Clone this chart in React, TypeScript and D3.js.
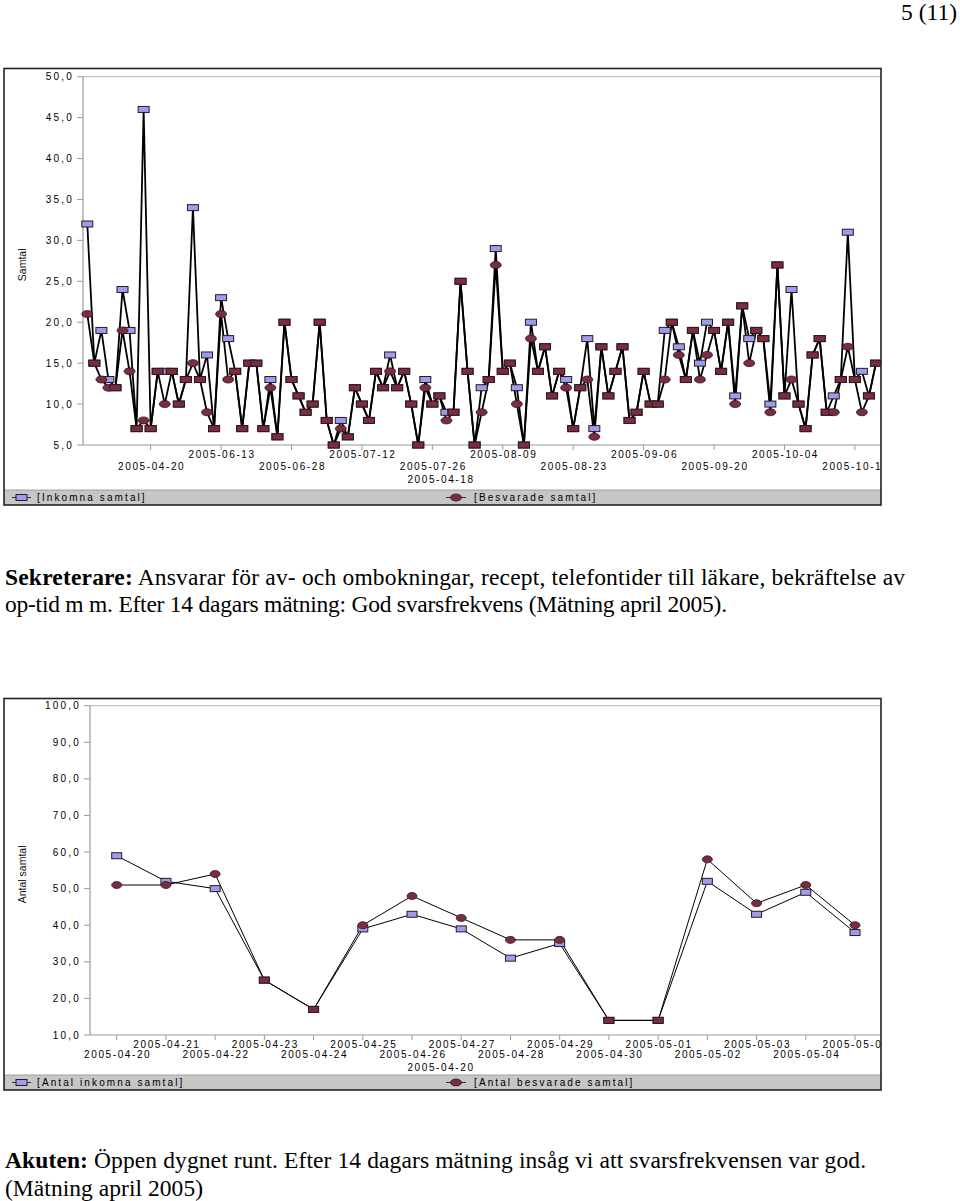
import React from "react";
import * as d3 from "d3";

// ---------- Chart 1 data (Sekreterare) ----------
const inkomna = [
  32, 15, 19, 13, 12, 24, 19, 7, 46, 7,
  14, 14, 14, 10, 13, 34, 13, 16, 7, 23,
  18, 14, 7, 15, 15, 7, 13, 6, 20, 13,
  11, 9, 10, 20, 8, 5, 8, 6, 12, 10,
  8, 14, 12, 16, 12, 14, 10, 5, 13, 10,
  11, 9, 9, 25, 14, 5, 12, 13, 29, 14,
  15, 12, 5, 20, 14, 17, 11, 14, 13, 7,
  12, 18, 7, 17, 11, 14, 17, 8, 9, 14,
  10, 10, 19, 20, 17, 13, 19, 15, 20, 19,
  14, 20, 11, 22, 18, 19, 18, 10, 27, 11,
  24, 10, 7, 16, 18, 9, 11, 13, 31, 13,
  14, 11, 15,
];
const besvarade = [
  21, 15, 13, 12, 12, 19, 14, 7, 8, 7,
  14, 10, 14, 10, 13, 15, 13, 9, 7, 21,
  13, 14, 7, 15, 15, 7, 12, 6, 20, 13,
  11, 9, 10, 20, 8, 5, 7, 6, 12, 10,
  8, 14, 12, 14, 12, 14, 10, 5, 12, 10,
  11, 8, 9, 25, 14, 5, 9, 13, 27, 14,
  15, 10, 5, 18, 14, 17, 11, 14, 12, 7,
  12, 13, 6, 17, 11, 14, 17, 8, 9, 14,
  10, 10, 13, 20, 16, 13, 19, 13, 16, 19,
  14, 20, 10, 22, 15, 19, 18, 9, 27, 11,
  13, 10, 7, 16, 18, 9, 9, 13, 17, 13,
  9, 11, 15,
];
const tickLabels1 = [
  "2005-04-20", "2005-06-13", "2005-06-28", "2005-07-12", "2005-07-26",
  "2005-08-09", "2005-08-23", "2005-09-06", "2005-09-20", "2005-10-04", "2005-10-18",
];
const yTicks1 = [5, 10, 15, 20, 25, 30, 35, 40, 45, 50];

// ---------- Chart 2 data (Akuten) ----------
const akutDates = [
  "2005-04-20", "2005-04-21", "2005-04-22", "2005-04-23", "2005-04-24", "2005-04-25",
  "2005-04-26", "2005-04-27", "2005-04-28", "2005-04-29", "2005-04-30", "2005-05-01",
  "2005-05-02", "2005-05-03", "2005-05-04", "2005-05-05",
];
const akutInkomna = [59, 52, 50, 25, 17, 39, 43, 39, 31, 35, 14, 14, 52, 43, 49, 38];
const akutBesvarade = [51, 51, 54, 25, 17, 40, 48, 42, 36, 36, 14, 14, 58, 46, 51, 40];
const yTicks2 = [10, 20, 30, 40, 50, 60, 70, 80, 90, 100];

const BLUE = "#9c9cf2";
const RED = "#7b2c40";
const EDGE = "#2a1a1a";
const AX = "#9a9a9a";
const SANS = "'Liberation Sans', Arial, sans-serif";
const SERIF = "'Liberation Serif', 'Times New Roman', serif";

const fmt = (v: number) => d3.format(".1f")(v).replace(".", ",");

type ChartProps = {
  id: string;
  frame: [number, number, number, number];
  plot: [number, number, number, number];
  xRange: [number, number];
  n: number;
  yDomain: [number, number];
  yTicks: number[];
  s1: number[];
  s2: number[];
  tickIdx: number[];
  tickLabels: string[];
  rows: [number, number, number];
  row3: string;
  title: string;
  legend1: string;
  legend2: string;
  lineW: number;
  mw: number;
  mh: number;
};

function Chart(p: ChartProps) {
  const [fx0, fy0, fx1, fy1] = p.frame;
  const [px0, py0, , py1] = p.plot;
  const x = d3.scaleLinear().domain([0, p.n - 1]).range(p.xRange);
  const y = d3.scaleLinear().domain(p.yDomain).range([py1, py0]);
  const line = d3
    .line<number>()
    .x((_, i) => x(i))
    .y((d) => y(d));
  const legendY0 = fy1 - 15;
  const legendMid = fy1 - 7.5;
  const midX = 441;
  const txt = {
    fontFamily: SANS,
    fontSize: 10,
    letterSpacing: 1.6,
    fill: "#000",
  } as const;
  return (
    <g>
      <defs>
        <clipPath id={p.id}>
          <rect x={fx0} y={fy0} width={fx1 - fx0} height={fy1 - fy0} />
        </clipPath>
      </defs>
      <rect x={fx0} y={fy0} width={fx1 - fx0} height={fy1 - fy0} fill="#fff" />
      <g clipPath={`url(#${p.id})`}>
        {/* plot border */}
        <line x1={px0} x2={fx1} y1={py0} y2={py0} stroke="#c4c4c4" strokeWidth={1.2} />
        <line x1={px0} x2={px0} y1={py0} y2={py1} stroke={AX} strokeWidth={1.2} />
        <line x1={px0} x2={fx1} y1={py1} y2={py1} stroke={AX} strokeWidth={1.2} />
        {/* y ticks */}
        {p.yTicks.map((t) => (
          <g key={t}>
            <line x1={px0 - 6} x2={px0} y1={y(t)} y2={y(t)} stroke={AX} />
            <text x={px0 - 9} y={y(t) + 3.5} textAnchor="end" {...txt} letterSpacing={2.2}>
              {fmt(t)}
            </text>
          </g>
        ))}
        <text
          transform={`translate(${fx0 + 22},${(py0 + py1) / 2 + 4}) rotate(-90)`}
          textAnchor="middle"
          fontFamily={SANS}
          fontSize={10.5}
          fill="#111"
        >
          {p.title}
        </text>
        {/* x ticks */}
        {p.tickIdx.map((ti, k) => (
          <g key={ti}>
            <line x1={x(ti)} x2={x(ti)} y1={py1} y2={py1 + 5} stroke={AX} />
            <text
              x={x(ti) + 1}
              y={py1 + (k % 2 === 1 ? p.rows[0] : p.rows[1])}
              textAnchor="middle"
              {...txt}
            >
              {p.tickLabels[k]}
            </text>
          </g>
        ))}
        <text x={midX} y={py1 + p.rows[2]} textAnchor="middle" {...txt}>
          {p.row3}
        </text>
        {/* lines */}
        <path d={line(p.s1) || ""} fill="none" stroke="#000" strokeWidth={p.lineW} />
        <path d={line(p.s2) || ""} fill="none" stroke="#000" strokeWidth={p.lineW} />
        {/* markers */}
        {p.s1.map((v, i) => (
          <rect
            key={"a" + i}
            x={x(i) - p.mw / 2}
            y={y(v) - p.mh / 2}
            width={p.mw}
            height={p.mh}
            fill={BLUE}
            stroke={EDGE}
            strokeWidth={1}
          />
        ))}
        {p.s2.map((v, i) =>
          v === p.s1[i] ? (
            <rect
              key={"b" + i}
              x={x(i) - p.mw / 2}
              y={y(v) - p.mh / 2}
              width={p.mw}
              height={p.mh}
              fill={RED}
              stroke={EDGE}
              strokeWidth={1}
            />
          ) : (
            <ellipse
              key={"b" + i}
              cx={x(i)}
              cy={y(v)}
              rx={p.mw / 2}
              ry={p.mh / 2 + 0.5}
              fill={RED}
              stroke={EDGE}
              strokeWidth={0.8}
            />
          )
        )}
        {/* legend */}
        <rect x={fx0} y={legendY0} width={fx1 - fx0} height={15} fill="#c6c6c6" />
        <line x1={fx0} x2={fx1} y1={legendY0} y2={legendY0} stroke="#a0a0a0" />
        <line x1={fx0 + 8} x2={fx0 + 27} y1={legendMid} y2={legendMid} stroke="#333" />
        <rect x={fx0 + 12} y={legendMid - 3} width={11} height={6} fill={BLUE} stroke={EDGE} />
        <text x={fx0 + 33} y={legendMid + 3.5} fontFamily={SANS} fontSize={10} letterSpacing={2.1} fill="#000">
          {p.legend1}
        </text>
        <line x1={446} x2={466} y1={legendMid} y2={legendMid} stroke="#333" />
        <ellipse cx={456} cy={legendMid} rx={5.5} ry={3.5} fill={RED} stroke={EDGE} strokeWidth={0.8} />
        <text x={474} y={legendMid + 3.5} fontFamily={SANS} fontSize={10} letterSpacing={2.1} fill="#000">
          {p.legend2}
        </text>
      </g>
      <rect
        x={fx0}
        y={fy0}
        width={fx1 - fx0}
        height={fy1 - fy0}
        fill="none"
        stroke="#222"
        strokeWidth={1.6}
      />
    </g>
  );
}

export default function App() {
  const idx1 = tickLabels1.map((_, i) => 9 + i * 10);
  const idx2 = akutDates.map((_, i) => i);
  const body = { fontFamily: SERIF, fontSize: 23.5, fill: "#000" } as const;
  return (
    <svg
      width={960}
      height={1201}
      viewBox="0 0 960 1201"
      style={{ position: "absolute", left: 0, top: 0, background: "#fff" }}
    >
      <text x={957} y={20} textAnchor="end" fontFamily={SERIF} fontSize={23.5} fill="#000">
        5 (11)
      </text>
      <Chart
        id="c1"
        frame={[4, 68.5, 881, 505]}
        plot={[83, 76.7, 881, 445]}
        xRange={[87.3, 876]}
        n={inkomna.length}
        yDomain={[5, 50]}
        yTicks={yTicks1}
        s1={inkomna}
        s2={besvarade}
        tickIdx={idx1}
        tickLabels={tickLabels1}
        rows={[12.8, 24.5, 37.8]}
        row3="2005-04-18"
        title="Samtal"
        legend1="[Inkomna samtal]"
        legend2="[Besvarade samtal]"
        lineW={1.8}
        mw={11}
        mh={6}
      />
      <text {...body} x={5} y={585} textLength={900} lengthAdjust="spacing">
        <tspan fontWeight="bold">Sekreterare:</tspan> Ansvarar för av- och ombokningar, recept, telefontider till läkare, bekräftelse av
      </text>
      <text {...body} x={5} y={612} textLength={722} lengthAdjust="spacing">
        op-tid m m. Efter 14 dagars mätning: God svarsfrekvens (Mätning april 2005).
      </text>
      <Chart
        id="c2"
        frame={[4, 698.5, 881, 1090]}
        plot={[90, 705.7, 881, 1035]}
        xRange={[116.7, 855]}
        n={akutDates.length}
        yDomain={[10, 100]}
        yTicks={yTicks2}
        s1={akutInkomna}
        s2={akutBesvarade}
        tickIdx={idx2}
        tickLabels={akutDates}
        rows={[12.5, 22.5, 35.7]}
        row3="2005-04-20"
        title="Antal samtal"
        legend1="[Antal inkomna samtal]"
        legend2="[Antal besvarade samtal]"
        lineW={1}
        mw={10}
        mh={6}
      />
      <text {...body} x={5} y={1168} textLength={861} lengthAdjust="spacing">
        <tspan fontWeight="bold">Akuten:</tspan> Öppen dygnet runt. Efter 14 dagars mätning insåg vi att svarsfrekvensen var god.
      </text>
      <text {...body} x={5} y={1196} textLength={198} lengthAdjust="spacing">
        (Mätning april 2005)
      </text>
    </svg>
  );
}
